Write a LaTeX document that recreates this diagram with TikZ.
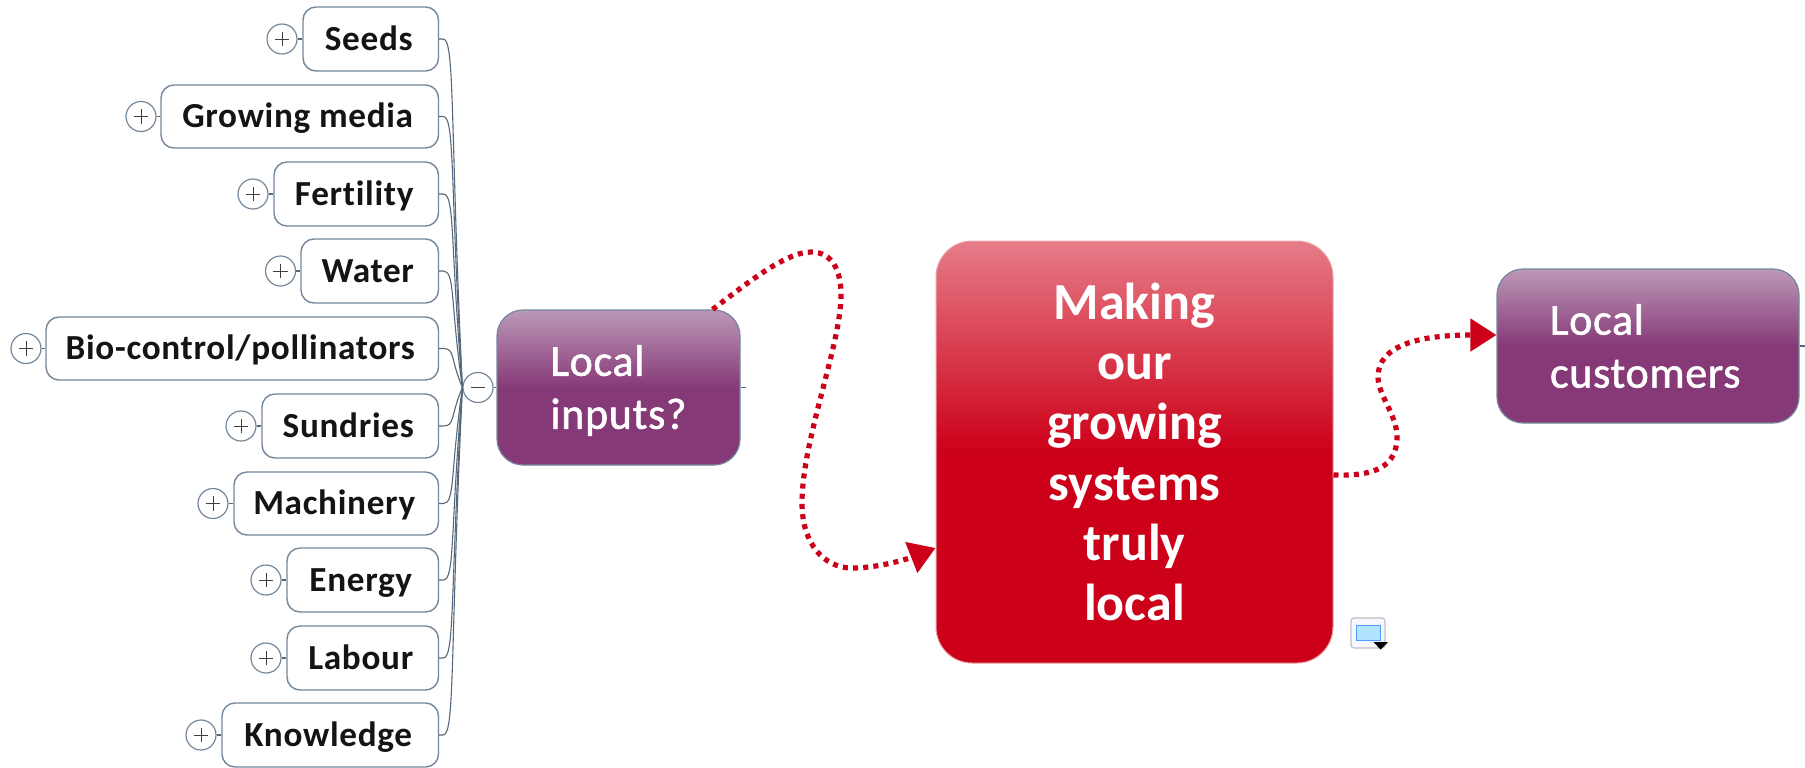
\documentclass[tikz,border=0pt]{standalone}
\usepackage{fontspec}
\setmainfont{Carlito}
\newfontfamily\leaffont[LetterSpace=2,Ligatures=NoCommon,BoldFont={Carlito Bold}]{Carlito Bold}
\newfontfamily\medfont[FakeBold=1.3,LetterSpace=1.6,Ligatures=NoCommon]{Carlito}
\newfontfamily\bigfont[Ligatures=NoCommon]{Carlito Bold}
\usetikzlibrary{calc,arrows.meta}
\definecolor{edgeblue}{HTML}{74879A}
\definecolor{linkblue}{HTML}{56697C}
\definecolor{redmain}{HTML}{CC0018}
\definecolor{redtop}{HTML}{E67C88}
\definecolor{purplemain}{HTML}{853A77}
\definecolor{purpletop}{HTML}{BC98B8}
\pgfdeclareverticalshading{purpleshade}{100bp}{color(0bp)=(purplemain); color(50bp)=(purplemain); color(75bp)=(purpletop); color(100bp)=(purpletop)}
\pgfdeclareverticalshading{redshade}{100bp}{color(0bp)=(redmain); color(50bp)=(redmain); color(75bp)=(redtop); color(100bp)=(redtop)}
\tikzset{
  leafbox/.style={draw=edgeblue,line width=.7pt,fill=white,rounded corners=6.5pt,inner sep=0pt,
    font=\fontsize{17.6}{20}\leaffont,text=black!92,text height=13pt,text depth=2pt,execute at end node={\kern 2pt}},
  togglebox/.style={circle,draw=edgeblue,line width=.6pt,fill=white,minimum size=15pt,inner sep=0pt},
  plusmark/.style={path picture={\draw[black!75,line width=.5pt]
     ([xshift=-3.6pt]path picture bounding box.center)--([xshift=3.6pt]path picture bounding box.center)
     ([yshift=-3.6pt]path picture bounding box.center)--([yshift=3.6pt]path picture bounding box.center);}},
  minusmark/.style={path picture={\draw[black!75,line width=.5pt]
     ([xshift=-3.6pt]path picture bounding box.center)--([xshift=3.6pt]path picture bounding box.center);}},
  purplebox/.style={draw=edgeblue,line width=.6pt,shading=purpleshade,rounded corners=13pt,inner sep=0pt,
    text=white,align=left,font=\fontsize{22}{26.5}\medfont},
  redbox/.style={draw=redtop!70,line width=.5pt,shading=redshade,rounded corners=18pt,inner sep=0pt,
    text=white,align=center,font=\fontsize{26}{30.1}\bigfont},
  linkline/.style={draw=linkblue,line width=.55pt},
  redflow/.style={draw=redmain,line width=2.6pt,dash pattern=on 2.5pt off 2.6pt,
    -{Triangle[length=13pt,width=16pt,fill=redmain]}},
}
\newcommand{\leafnode}[6]{% name, left, top, bottom, text, plus x
  \node[leafbox,minimum width={(438.5-#2)*0.5pt},minimum height={(#4-#3)*0.5pt}] (#1) at ({(438.5+#2)/2},{(#3+#4)/2}) {#5};
  \node[togglebox,plusmark] (p#1) at (#6,{(#3+#4)/2}) {};
  \draw[linkline] (p#1) -- (#1);
  \draw[linkline] (#1.east) -- ++(4,0) .. controls ++(12,0) and ($(#1.east)!0.25!(minus.west)+(5,0)$) .. (minus.west);
}
\begin{document}
\begin{tikzpicture}[x=0.5pt,y=-0.5pt]
\useasboundingbox (0,0) rectangle (1805,767);
\node[togglebox,minusmark] (minus) at (478,387.5) {};
\leafnode{seeds}{303}{7}{71}{Seeds}{282}
\leafnode{media}{161}{85}{148}{Growing media}{141}
\leafnode{fert}{274}{162}{226}{Fertility}{253}
\leafnode{water}{301}{239}{303}{Water}{280.5}
\leafnode{bio}{46}{317}{380}{Bio-control/pollinators}{26}
\leafnode{sund}{262}{394}{458}{Sundries}{241}
\leafnode{mach}{234}{472}{535}{Machinery}{213}
\leafnode{energy}{287}{548}{612}{Energy}{266}
\leafnode{labour}{287}{626}{690}{Labour}{266}
\leafnode{know}{222}{703}{767}{Knowledge}{201}
\node[purplebox,minimum width=121.5pt,minimum height=77.5pt,text width=68pt] (inputs) at (618.5,387.5) {\rule{0pt}{18.3pt}Local\\inputs?};
\node[redbox,minimum width=198.5pt,minimum height=211pt] (center) at (1134.5,452) {Making\\our\\growing\\systems\\truly\\local};
\node[purplebox,minimum width=151pt,minimum height=77pt,text width=98pt] (customers) at (1648,346) {Local\\customers};
\coordinate (stubA) at (746,387.5);
\coordinate (stubB) at (1805,346);
\draw[linkline] (minus) -- (inputs);
\draw[linkline] (inputs.east) -- (stubA);
\draw[linkline] (customers.east) -- (stubB);
\draw[redflow] ([xshift=-14pt]inputs.north east)
  .. controls (745,285) and (785,252) .. (811,252)
  .. controls (832,252) and (841,270) .. (841,295)
  .. controls (841,345) and (802,440) .. (802,503)
  .. controls (802,545) and (825,568) .. (852,568)
  .. controls (880,568) and (910,558) .. ([yshift=-48pt]center.west);
\draw[redflow] ([yshift=-11.5pt]center.east)
  .. controls (1365,476) and (1397,472) .. (1397,437)
  .. controls (1397,415) and (1378,395) .. (1378,377)
  .. controls (1378,345) and (1420,335) .. ([yshift=5.5pt]customers.west);
% small topic icon
\draw[draw=black!25,line width=.6pt,fill=blue!3,rounded corners=1.5pt] (1351,618) rectangle (1385,648);
\draw[draw=blue!55!cyan!70,line width=.5pt,fill=blue!35!cyan!30] (1356,625) rectangle (1380,640);
\fill[black] (1373.5,642) -- (1388,642) -- (1380.5,649.5) -- cycle;
\end{tikzpicture}
\end{document}
